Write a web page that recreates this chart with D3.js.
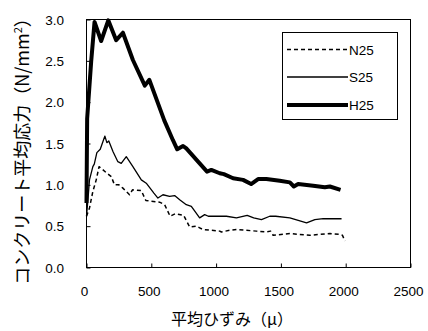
<!DOCTYPE html>
<html>
<head>
<meta charset="utf-8">
<script src="https://cdn.jsdelivr.net/npm/d3@7"></script>
<style>
  body { margin: 0; background: #fff; }
  svg { display: block; }
  .tick-label { font-family: "Liberation Sans", Arial, sans-serif; font-size: 13.5px; fill: #000; }
  .jp-label { font-family: "Noto Sans CJK JP", sans-serif; fill: #000; }
</style>
</head>
<body>
<div id="chart"></div>
<script>
// [strain (μ), stress (N/mm2)]
const n25 = [[0,0.62],[23,0.72],[49,0.92],[75,1.06],[97,1.22],[113,1.2],[150,1.15],[191,1.1],[216,1.0],[250,1.0],[281,0.96],[332,0.88],[355,0.94],[423,0.93],[458,0.81],[564,0.79],[603,0.76],[645,0.62],[685,0.65],[750,0.63],[796,0.49],[848,0.5],[873,0.48],[899,0.46],[1028,0.44],[1041,0.43],[1105,0.45],[1157,0.46],[1234,0.45],[1311,0.44],[1388,0.43],[1420,0.44],[1440,0.39],[1569,0.41],[1724,0.39],[1878,0.41],[1955,0.4],[1975,0.39],[1994,0.32]];
const s25 = [[0,0.62],[10,0.8],[23,1.06],[49,1.22],[60,1.25],[80,1.39],[106,1.43],[142,1.59],[157,1.51],[172,1.53],[205,1.4],[242,1.28],[268,1.26],[307,1.34],[358,1.22],[423,1.06],[461,1.02],[520,0.9],[551,0.84],[590,0.88],[641,0.86],[680,0.87],[719,0.82],[770,0.76],[809,0.74],[873,0.6],[912,0.64],[940,0.62],[989,0.62],[1080,0.62],[1157,0.6],[1240,0.63],[1290,0.6],[1350,0.58],[1414,0.62],[1460,0.62],[1569,0.6],[1698,0.54],[1762,0.58],[1826,0.59],[1968,0.59]];
const h25 = [[0,0.78],[5,1.8],[36,2.49],[62,2.97],[113,2.74],[168,2.99],[229,2.75],[281,2.84],[358,2.51],[450,2.2],[485,2.27],[600,1.78],[667,1.54],[700,1.43],[745,1.47],[770,1.44],[873,1.26],[930,1.16],[963,1.18],[1028,1.14],[1060,1.13],[1131,1.08],[1208,1.06],[1270,1.01],[1324,1.07],[1388,1.07],[1491,1.05],[1569,1.03],[1600,0.98],[1633,1.01],[1749,0.99],[1839,0.97],[1878,0.98],[1960,0.94]];

const xTicks = [0, 500, 1000, 1500, 2000, 2500];
const yTicks = [0, 0.5, 1.0, 1.5, 2.0, 2.5, 3.0];

const series = [
  { name: "N25", data: n25, width: 1.5, dash: "4,3" },
  { name: "S25", data: s25, width: 1.3, dash: null },
  { name: "H25", data: h25, width: 4, dash: null }
];

const width = 428, height = 331;
const svg = d3.select("#chart").append("svg")
  .attr("width", width).attr("height", height);

const x = d3.scaleLinear().domain([0, 2500]).range([86.5, 410.5]);
const y = d3.scaleLinear().domain([0, 3]).range([267.5, 19.5]);

// lines
const line = d3.line().x(d => x(d[0])).y(d => y(d[1]));
series.forEach(s => {
  svg.append("path")
    .datum(s.data)
    .attr("d", line)
    .attr("fill", "none")
    .attr("stroke", "#000")
    .attr("stroke-width", s.width)
    .attr("stroke-linejoin", "round")
    .attr("stroke-dasharray", s.dash);
});

// frame
svg.append("rect")
  .attr("x", x(0)).attr("y", y(3))
  .attr("width", x(2500) - x(0)).attr("height", y(0) - y(3))
  .attr("fill", "none").attr("stroke", "#000").attr("stroke-width", 1);

// axes, ticks inside
const xAxis = d3.axisTop(x).tickValues(xTicks).tickSize(4).tickFormat("");
svg.append("g").attr("transform", `translate(0,${y(0)})`).call(xAxis)
  .call(g => g.select(".domain").remove());
const yAxis = d3.axisRight(y).tickValues(yTicks).tickSize(4).tickFormat("");
svg.append("g").attr("transform", `translate(${x(0)},0)`).call(yAxis)
  .call(g => g.select(".domain").remove());

svg.selectAll(".xl").data(xTicks).enter().append("text")
  .attr("class", "tick-label")
  .attr("x", d => x(d) - 2).attr("y", 296)
  .attr("text-anchor", "middle")
  .text(d => d);

svg.selectAll(".yl").data(yTicks).enter().append("text")
  .attr("class", "tick-label")
  .attr("x", 64).attr("y", d => y(d) + 5)
  .attr("text-anchor", "end")
  .text(d => d.toFixed(1));

// axis titles
svg.append("text").attr("class", "jp-label")
  .attr("x", 232).attr("y", 325)
  .attr("text-anchor", "middle")
  .style("font-size", "16px")
  .text("平均ひずみ（μ）");

const yt = svg.append("text").attr("class", "jp-label")
  .attr("transform", "translate(29,147) rotate(-90)")
  .attr("text-anchor", "middle")
  .style("font-size", "18px");
yt.append("tspan").text("コンクリート平均応力（N/mm");
yt.append("tspan").attr("dy", -7).style("font-size", "11px").text("2");
yt.append("tspan").attr("dy", 7).text("）");

// legend
const legend = svg.append("g");
legend.append("rect")
  .attr("x", 282.5).attr("y", 32.5).attr("width", 115).attr("height", 87)
  .attr("fill", "#fff").attr("stroke", "#000");
const rowY = [49.5, 77, 105];
series.forEach((s, i) => {
  legend.append("line")
    .attr("x1", 287).attr("x2", 348)
    .attr("y1", rowY[i]).attr("y2", rowY[i])
    .attr("stroke", "#000")
    .attr("stroke-width", s.width)
    .attr("stroke-dasharray", s.dash);
  legend.append("text")
    .attr("class", "tick-label")
    .attr("x", 349).attr("y", rowY[i] + 5)
    .text(s.name);
});
</script>
</body>
</html>
